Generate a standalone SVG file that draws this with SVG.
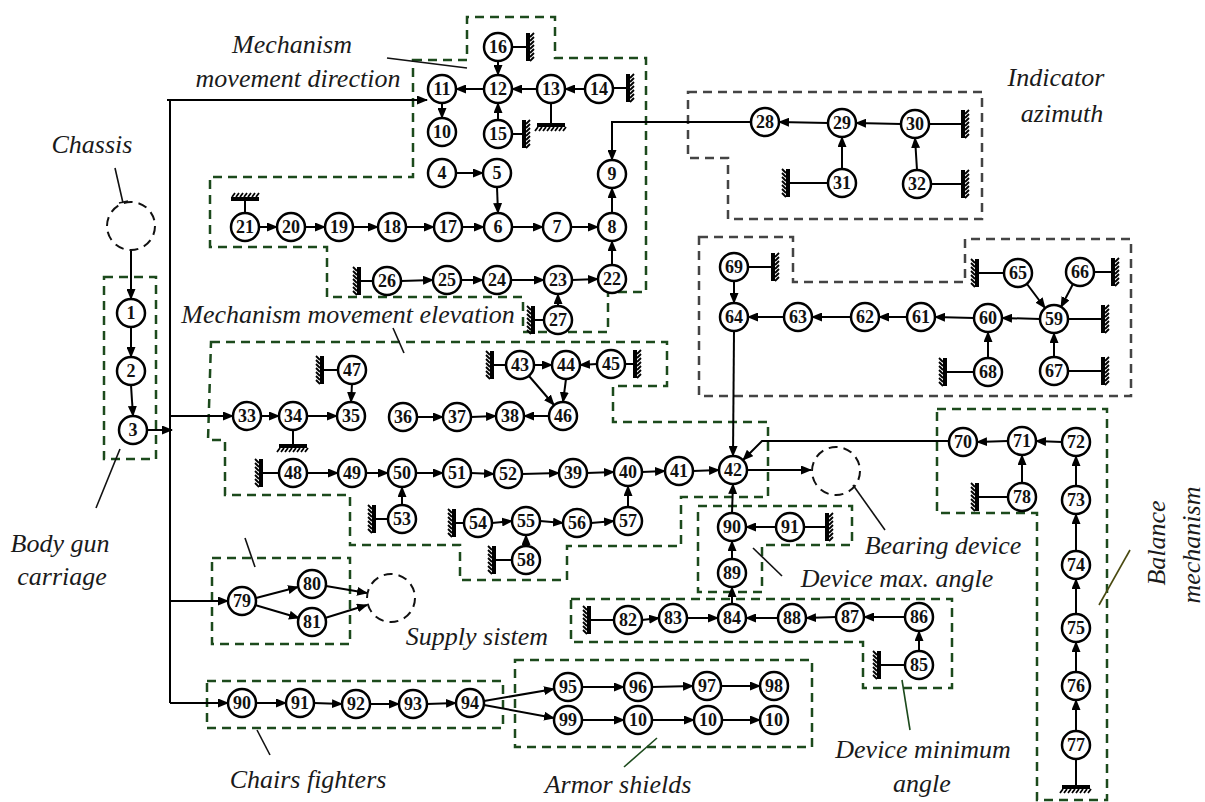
<svg xmlns="http://www.w3.org/2000/svg" xmlns:xlink="http://www.w3.org/1999/xlink" width="1205" height="802" viewBox="0 0 1205 802">
<style>
.n circle{fill:#fff;stroke:#000;stroke-width:2.5}
.n text{font-family:"Liberation Serif",serif;font-weight:bold;font-size:18px;text-anchor:middle;fill:#111}
.e{stroke:#000;stroke-width:2;fill:none;marker-end:url(#a)}
.l{stroke:#000;stroke-width:2;fill:none}
.gb{fill:none;stroke:#1c4a1c;stroke-width:2.5;stroke-dasharray:9 6}
.gy{fill:none;stroke:#444;stroke-width:2.5;stroke-dasharray:9 6}
.dc{fill:none;stroke:#111;stroke-width:2;stroke-dasharray:9 6}
.lab{font-family:"Liberation Serif",serif;font-style:italic;font-size:26px;fill:#1a1a1a;text-anchor:middle}
.ld{stroke:#111;stroke-width:1.6;fill:none}
.lg{stroke:#1c4a1c;stroke-width:1.6;fill:none}
</style>
<defs>
<marker id="a" markerWidth="11" markerHeight="9" refX="10" refY="4.5" orient="auto" markerUnits="userSpaceOnUse"><path d="M0,0 L11,4.5 L0,9 z" fill="#000"/></marker>
<g id="gR"><rect x="0" y="-14" width="4" height="28" fill="#000"/><path d="M4,-10 l4,-4 M4,-6 l4,-4 M4,-2 l4,-4 M4,2 l4,-4 M4,6 l4,-4 M4,10 l4,-4 M4,14 l4,-4" stroke="#000" stroke-width="1.8"/></g>
<g id="gL"><rect x="-4" y="-14" width="4" height="28" fill="#000"/><path d="M-4,-10 l-4,-4 M-4,-6 l-4,-4 M-4,-2 l-4,-4 M-4,2 l-4,-4 M-4,6 l-4,-4 M-4,10 l-4,-4 M-4,14 l-4,-4" stroke="#000" stroke-width="1.8"/></g>
<g id="gD"><rect x="-14" y="0" width="28" height="4" fill="#000"/><path d="M-13,4 l-3,4 M-9,4 l-3,4 M-5,4 l-3,4 M-1,4 l-3,4 M3,4 l-3,4 M7,4 l-3,4 M11,4 l-3,4 M15,4 l-3,4" stroke="#000" stroke-width="1.8"/></g>
<g id="gU"><rect x="-14" y="-4" width="28" height="4" fill="#000"/><path d="M-13,-4 l3,-4 M-9,-4 l3,-4 M-5,-4 l3,-4 M-1,-4 l3,-4 M3,-4 l3,-4 M7,-4 l3,-4 M11,-4 l3,-4" stroke="#000" stroke-width="1.8"/></g>
</defs>
<rect width="1205" height="802" fill="#fff"/>

<g id="boxes">
<path class="gb" d="M413,60 H467 V17 H555 V58 H646 V292 H608 V332 H523 V297 H327 V247 H210 V177 H413 Z"/>
<rect class="gb" x="104" y="277" width="52" height="182"/>
<path class="gb" d="M211,342 H667 V386 H613 V422 H768 V497 H681 V546 H567 V580 H460 V545 H350 V495 H225 V440 H208 Z"/>
<path class="gb" d="M698,506 H852 V545 H762 V592 H698 Z"/>
<path class="gb" d="M571,599 H952 V688 H863 V642 H571 Z"/>
<path class="gb" d="M937,409 H1107 V800 H1037 V513 H937 Z"/>
<rect class="gb" x="212" y="558" width="138" height="86"/>
<rect class="gb" x="207" y="681" width="296" height="47"/>
<rect class="gb" x="515" y="660" width="297" height="87"/>
<path class="gy" d="M688,92 H982 V219 H728 V158 H688 Z"/>
<path class="gy" d="M699,237 H793 V282 H965 V239 H1131 V396 H699 Z"/>
</g>

<g id="labels">
<text class="lab" x="292" y="53">Mechanism</text>
<text class="lab" x="298" y="87">movement direction</text>
<text class="lab" x="92" y="153">Chassis</text>
<text class="lab" x="1056" y="86">Indicator</text>
<text class="lab" x="1062" y="122">azimuth</text>
<text class="lab" x="348" y="323">Mechanism movement elevation</text>
<text class="lab" x="60" y="552">Body gun</text>
<text class="lab" x="62" y="585">carriage</text>
<text class="lab" x="943" y="554">Bearing device</text>
<text class="lab" x="897" y="587">Device max. angle</text>
<text class="lab" x="477" y="645">Supply sistem</text>
<text class="lab" x="923" y="758">Device minimum</text>
<text class="lab" x="922" y="792">angle</text>
<text class="lab" x="308" y="788">Chairs fighters</text>
<text class="lab" x="618" y="793">Armor shields</text>
<text class="lab" transform="translate(1165,543) rotate(-90)">Balance</text>
<text class="lab" transform="translate(1200,545) rotate(-90)">mechanism</text>
<path class="ld" d="M115,168 L123,203 M119,203 L128,201"/>
<path class="ld" d="M387,58 L467,68"/>
<path class="ld" d="M393,328 L404,353"/>
<path class="ld" d="M120,449 L96,508"/>
<path class="ld" d="M245,538 L255,567"/>
<path class="ld" d="M257,730 L270,755"/>
<path class="lg" d="M657,738 L624,767"/>
<path class="ld" d="M853,485 L885,530"/>
<path class="ld" d="M753,548 L782,576"/>
<path class="lg" d="M902,680 L910,730"/>
<path class="ld" d="M1099,605 L1130,550" style="stroke:#4a4a10"/>
</g>

<g id="connectors">
<path class="l" d="M170,100 V703"/>
<path class="e" d="M167,100 H427"/>
<path class="e" d="M170,416 H233"/>
<path class="e" d="M170,601 H228"/>
<path class="e" d="M170,703 H228"/>
<path class="e" d="M131,250 V299"/>
<path class="e" d="M131,327 V357"/>
<path class="e" d="M131,385 L133,416"/>
<path class="e" d="M147,430 H172"/>
<path class="e" d="M498,61 V75"/>
<path class="e" d="M484,89 H456"/>
<path class="e" d="M537,89 H512"/>
<path class="e" d="M585,89 H565"/>
<path class="e" d="M498,120 V103"/>
<path class="e" d="M442,103 V118"/>
<path class="e" d="M456,173 H483"/>
<path class="e" d="M497,187 L498,213"/>
<path class="e" d="M259,227 H277"/>
<path class="e" d="M305,227 H325"/>
<path class="e" d="M353,227 H378"/>
<path class="e" d="M406,227 H434"/>
<path class="e" d="M462,227 H484"/>
<path class="e" d="M512,227 H543"/>
<path class="e" d="M571,227 H598"/>
<path class="e" d="M612,213 V188"/>
<path class="e" d="M612,265 V241"/>
<path class="e" d="M401,281 L433,280"/>
<path class="e" d="M461,280 H483"/>
<path class="e" d="M511,280 H544"/>
<path class="e" d="M572,280 L598,279"/>
<path class="e" d="M558,306 V294"/>
<path class="e" d="M751,122 H612 V160"/>
<path class="e" d="M901,124 L856,123"/>
<path class="e" d="M828,123 L779,122"/>
<path class="e" d="M842,169 V137"/>
<path class="e" d="M917,170 L915,138"/>
<path class="e" d="M261,416 H279"/>
<path class="e" d="M307,416 H337"/>
<path class="e" d="M352,384 L351,402"/>
<path class="e" d="M417,417 H443"/>
<path class="e" d="M471,417 L496,416"/>
<path class="e" d="M549,416 H524"/>
<path class="e" d="M534,365 H552"/>
<path class="e" d="M597,364 L580,365"/>
<path class="e" d="M566,379 L563,402"/>
<path class="e" d="M529,376 L554,405"/>
<path class="e" d="M307,473 H338"/>
<path class="e" d="M366,473 H388"/>
<path class="e" d="M416,473 H443"/>
<path class="e" d="M471,473 L494,474"/>
<path class="e" d="M522,474 L559,473"/>
<path class="e" d="M587,473 L614,472"/>
<path class="e" d="M642,472 L665,471"/>
<path class="e" d="M693,471 L719,470"/>
<path class="e" d="M402,505 V487"/>
<path class="e" d="M492,523 L512,521"/>
<path class="e" d="M540,521 L563,523"/>
<path class="e" d="M591,523 L614,521"/>
<path class="e" d="M526,546 V535"/>
<path class="e" d="M628,507 V486"/>
<path class="e" d="M734,331 L733,456"/>
<path class="e" d="M732,513 L733,484"/>
<path class="e" d="M949,441 H762 L743,460"/>
<path class="e" d="M747,470 H811"/>
<path class="e" d="M1027,284 L1045,308"/>
<path class="e" d="M1073,284 L1061,307"/>
<path class="e" d="M1054,357 V333"/>
<path class="e" d="M1040,319 L1002,318"/>
<path class="e" d="M988,358 V332"/>
<path class="e" d="M974,318 L935,317"/>
<path class="e" d="M907,317 H879"/>
<path class="e" d="M851,317 H812"/>
<path class="e" d="M784,317 H748"/>
<path class="e" d="M734,281 V303"/>
<path class="e" d="M1062,442 L1036,441"/>
<path class="e" d="M1008,441 L977,442"/>
<path class="e" d="M1022,483 V455"/>
<path class="e" d="M1076,486 V456"/>
<path class="e" d="M1076,551 V514"/>
<path class="e" d="M1076,614 V579"/>
<path class="e" d="M1076,672 V642"/>
<path class="e" d="M1076,731 V700"/>
<path class="e" d="M776,527 H746"/>
<path class="e" d="M732,559 V541"/>
<path class="e" d="M732,604 V587"/>
<path class="e" d="M642,620 L659,618"/>
<path class="e" d="M687,618 H718"/>
<path class="e" d="M778,618 H746"/>
<path class="e" d="M836,617 L806,618"/>
<path class="e" d="M905,617 H864"/>
<path class="e" d="M919,651 V631"/>
<path class="e" d="M256,598 L298,587"/>
<path class="e" d="M255,605 L299,618"/>
<path class="e" d="M326,586 L367,593"/>
<path class="e" d="M325,618 L367,605"/>
<path class="e" d="M256,703 H286"/>
<path class="e" d="M314,703 L342,704"/>
<path class="e" d="M370,704 H399"/>
<path class="e" d="M427,704 L456,703"/>
<path class="e" d="M484,701 L554,689"/>
<path class="e" d="M484,705 L554,718"/>
<path class="e" d="M582,687 H624"/>
<path class="e" d="M652,687 L693,686"/>
<path class="e" d="M721,686 H760"/>
<path class="e" d="M582,720 H624"/>
<path class="e" d="M652,720 H694"/>
<path class="e" d="M722,720 H760"/>
<path class="l" d="M512,47 H526 M613,88 H626 M512,134 H522 M551,103 V123 M245,213 V201 M361,281 H373 M535,320 H544 M929,124 H961 M790,183 H828 M931,184 H961 M324,370 H338 M293,430 V444 M494,365 H506 M625,364 H633 M263,473 H279 M376,519 H388 M456,523 H464 M496,560 H512 M748,267 H771 M979,273 H1004 M1094,272 H1111 M1068,319 H1101 M947,372 H974 M1068,371 H1101 M979,497 H1008 M1076,759 V785 M804,527 H825 M591,620 H614 M881,665 H905"/>
</g>

<g id="grounds">
<use xlink:href="#gR" x="526" y="47"/>
<use xlink:href="#gR" x="626" y="88"/>
<use xlink:href="#gR" x="522" y="134"/>
<use xlink:href="#gD" x="551" y="123"/>
<use xlink:href="#gU" x="245" y="201"/>
<use xlink:href="#gL" x="361" y="281"/>
<use xlink:href="#gL" x="535" y="320"/>
<use xlink:href="#gR" x="961" y="124"/>
<use xlink:href="#gL" x="790" y="183"/>
<use xlink:href="#gR" x="961" y="184"/>
<use xlink:href="#gL" x="324" y="370"/>
<use xlink:href="#gD" x="293" y="444"/>
<use xlink:href="#gL" x="494" y="365"/>
<use xlink:href="#gR" x="633" y="364"/>
<use xlink:href="#gL" x="263" y="473"/>
<use xlink:href="#gL" x="376" y="519"/>
<use xlink:href="#gL" x="456" y="523"/>
<use xlink:href="#gL" x="496" y="560"/>
<use xlink:href="#gR" x="771" y="267"/>
<use xlink:href="#gL" x="979" y="273"/>
<use xlink:href="#gR" x="1111" y="272"/>
<use xlink:href="#gR" x="1101" y="319"/>
<use xlink:href="#gL" x="947" y="372"/>
<use xlink:href="#gR" x="1101" y="371"/>
<use xlink:href="#gL" x="979" y="497"/>
<use xlink:href="#gD" x="1076" y="785"/>
<use xlink:href="#gR" x="825" y="527"/>
<use xlink:href="#gL" x="591" y="620"/>
<use xlink:href="#gL" x="881" y="665"/>
</g>

<g id="chassis"><circle class="dc" cx="131" cy="226" r="24"/></g>
<g id="bearing"><circle class="dc" cx="836" cy="471" r="24"/></g>
<g id="supply"><circle class="dc" cx="391" cy="598" r="24"/></g>

<g id="n1" class="n"><circle cx="131" cy="313" r="14"/><text x="131" y="319">1</text></g>
<g id="n2" class="n"><circle cx="131" cy="371" r="14"/><text x="131" y="377">2</text></g>
<g id="n3" class="n"><circle cx="133" cy="430" r="14"/><text x="133" y="436">3</text></g>
<g id="n4" class="n"><circle cx="442" cy="173" r="14"/><text x="442" y="179">4</text></g>
<g id="n5" class="n"><circle cx="497" cy="173" r="14"/><text x="497" y="179">5</text></g>
<g id="n6" class="n"><circle cx="498" cy="227" r="14"/><text x="498" y="233">6</text></g>
<g id="n7" class="n"><circle cx="557" cy="227" r="14"/><text x="557" y="233">7</text></g>
<g id="n8" class="n"><circle cx="612" cy="227" r="14"/><text x="612" y="233">8</text></g>
<g id="n9" class="n"><circle cx="612" cy="174" r="14"/><text x="612" y="180">9</text></g>
<g id="n10" class="n"><circle cx="442" cy="132" r="14"/><text x="442" y="138">10</text></g>
<g id="n11" class="n"><circle cx="442" cy="89" r="14"/><text x="442" y="95">11</text></g>
<g id="n12" class="n"><circle cx="498" cy="89" r="14"/><text x="498" y="95">12</text></g>
<g id="n13" class="n"><circle cx="551" cy="89" r="14"/><text x="551" y="95">13</text></g>
<g id="n14" class="n"><circle cx="599" cy="89" r="14"/><text x="599" y="95">14</text></g>
<g id="n15" class="n"><circle cx="498" cy="134" r="14"/><text x="498" y="140">15</text></g>
<g id="n16" class="n"><circle cx="498" cy="47" r="14"/><text x="498" y="53">16</text></g>
<g id="n17" class="n"><circle cx="448" cy="227" r="14"/><text x="448" y="233">17</text></g>
<g id="n18" class="n"><circle cx="392" cy="227" r="14"/><text x="392" y="233">18</text></g>
<g id="n19" class="n"><circle cx="339" cy="227" r="14"/><text x="339" y="233">19</text></g>
<g id="n20" class="n"><circle cx="291" cy="227" r="14"/><text x="291" y="233">20</text></g>
<g id="n21" class="n"><circle cx="245" cy="227" r="14"/><text x="245" y="233">21</text></g>
<g id="n22" class="n"><circle cx="612" cy="279" r="14"/><text x="612" y="285">22</text></g>
<g id="n23" class="n"><circle cx="558" cy="280" r="14"/><text x="558" y="286">23</text></g>
<g id="n24" class="n"><circle cx="497" cy="280" r="14"/><text x="497" y="286">24</text></g>
<g id="n25" class="n"><circle cx="447" cy="280" r="14"/><text x="447" y="286">25</text></g>
<g id="n26" class="n"><circle cx="387" cy="281" r="14"/><text x="387" y="287">26</text></g>
<g id="n27" class="n"><circle cx="558" cy="320" r="14"/><text x="558" y="326">27</text></g>
<g id="n28" class="n"><circle cx="765" cy="122" r="14"/><text x="765" y="128">28</text></g>
<g id="n29" class="n"><circle cx="842" cy="123" r="14"/><text x="842" y="129">29</text></g>
<g id="n30" class="n"><circle cx="915" cy="124" r="14"/><text x="915" y="130">30</text></g>
<g id="n31" class="n"><circle cx="842" cy="183" r="14"/><text x="842" y="189">31</text></g>
<g id="n32" class="n"><circle cx="917" cy="184" r="14"/><text x="917" y="190">32</text></g>
<g id="n33" class="n"><circle cx="247" cy="416" r="14"/><text x="247" y="422">33</text></g>
<g id="n34" class="n"><circle cx="293" cy="416" r="14"/><text x="293" y="422">34</text></g>
<g id="n35" class="n"><circle cx="351" cy="416" r="14"/><text x="351" y="422">35</text></g>
<g id="n36" class="n"><circle cx="403" cy="417" r="14"/><text x="403" y="423">36</text></g>
<g id="n37" class="n"><circle cx="457" cy="417" r="14"/><text x="457" y="423">37</text></g>
<g id="n38" class="n"><circle cx="510" cy="416" r="14"/><text x="510" y="422">38</text></g>
<g id="n39" class="n"><circle cx="573" cy="473" r="14"/><text x="573" y="479">39</text></g>
<g id="n40" class="n"><circle cx="628" cy="472" r="14"/><text x="628" y="478">40</text></g>
<g id="n41" class="n"><circle cx="679" cy="471" r="14"/><text x="679" y="477">41</text></g>
<g id="n42" class="n"><circle cx="733" cy="470" r="14"/><text x="733" y="476">42</text></g>
<g id="n43" class="n"><circle cx="520" cy="365" r="14"/><text x="520" y="371">43</text></g>
<g id="n44" class="n"><circle cx="566" cy="365" r="14"/><text x="566" y="371">44</text></g>
<g id="n45" class="n"><circle cx="611" cy="364" r="14"/><text x="611" y="370">45</text></g>
<g id="n46" class="n"><circle cx="563" cy="416" r="14"/><text x="563" y="422">46</text></g>
<g id="n47" class="n"><circle cx="352" cy="370" r="14"/><text x="352" y="376">47</text></g>
<g id="n48" class="n"><circle cx="293" cy="473" r="14"/><text x="293" y="479">48</text></g>
<g id="n49" class="n"><circle cx="352" cy="473" r="14"/><text x="352" y="479">49</text></g>
<g id="n50" class="n"><circle cx="402" cy="473" r="14"/><text x="402" y="479">50</text></g>
<g id="n51" class="n"><circle cx="457" cy="473" r="14"/><text x="457" y="479">51</text></g>
<g id="n52" class="n"><circle cx="508" cy="474" r="14"/><text x="508" y="480">52</text></g>
<g id="n53" class="n"><circle cx="402" cy="519" r="14"/><text x="402" y="525">53</text></g>
<g id="n54" class="n"><circle cx="478" cy="523" r="14"/><text x="478" y="529">54</text></g>
<g id="n55" class="n"><circle cx="526" cy="521" r="14"/><text x="526" y="527">55</text></g>
<g id="n56" class="n"><circle cx="577" cy="523" r="14"/><text x="577" y="529">56</text></g>
<g id="n57" class="n"><circle cx="628" cy="521" r="14"/><text x="628" y="527">57</text></g>
<g id="n58" class="n"><circle cx="526" cy="560" r="14"/><text x="526" y="566">58</text></g>
<g id="n59" class="n"><circle cx="1054" cy="319" r="14"/><text x="1054" y="325">59</text></g>
<g id="n60" class="n"><circle cx="988" cy="318" r="14"/><text x="988" y="324">60</text></g>
<g id="n61" class="n"><circle cx="921" cy="317" r="14"/><text x="921" y="323">61</text></g>
<g id="n62" class="n"><circle cx="865" cy="317" r="14"/><text x="865" y="323">62</text></g>
<g id="n63" class="n"><circle cx="798" cy="317" r="14"/><text x="798" y="323">63</text></g>
<g id="n64" class="n"><circle cx="734" cy="317" r="14"/><text x="734" y="323">64</text></g>
<g id="n65" class="n"><circle cx="1018" cy="273" r="14"/><text x="1018" y="279">65</text></g>
<g id="n66" class="n"><circle cx="1080" cy="272" r="14"/><text x="1080" y="278">66</text></g>
<g id="n67" class="n"><circle cx="1054" cy="371" r="14"/><text x="1054" y="377">67</text></g>
<g id="n68" class="n"><circle cx="988" cy="372" r="14"/><text x="988" y="378">68</text></g>
<g id="n69" class="n"><circle cx="734" cy="267" r="14"/><text x="734" y="273">69</text></g>
<g id="n70" class="n"><circle cx="963" cy="442" r="14"/><text x="963" y="448">70</text></g>
<g id="n71" class="n"><circle cx="1022" cy="441" r="14"/><text x="1022" y="447">71</text></g>
<g id="n72" class="n"><circle cx="1076" cy="442" r="14"/><text x="1076" y="448">72</text></g>
<g id="n73" class="n"><circle cx="1076" cy="500" r="14"/><text x="1076" y="506">73</text></g>
<g id="n74" class="n"><circle cx="1076" cy="565" r="14"/><text x="1076" y="571">74</text></g>
<g id="n75" class="n"><circle cx="1076" cy="628" r="14"/><text x="1076" y="634">75</text></g>
<g id="n76" class="n"><circle cx="1076" cy="686" r="14"/><text x="1076" y="692">76</text></g>
<g id="n77" class="n"><circle cx="1076" cy="745" r="14"/><text x="1076" y="751">77</text></g>
<g id="n78" class="n"><circle cx="1022" cy="497" r="14"/><text x="1022" y="503">78</text></g>
<g id="n79" class="n"><circle cx="242" cy="601" r="14"/><text x="242" y="607">79</text></g>
<g id="n80" class="n"><circle cx="312" cy="584" r="14"/><text x="312" y="590">80</text></g>
<g id="n81" class="n"><circle cx="312" cy="622" r="14"/><text x="312" y="628">81</text></g>
<g id="n82" class="n"><circle cx="628" cy="620" r="14"/><text x="628" y="626">82</text></g>
<g id="n83" class="n"><circle cx="673" cy="618" r="14"/><text x="673" y="624">83</text></g>
<g id="n84" class="n"><circle cx="732" cy="618" r="14"/><text x="732" y="624">84</text></g>
<g id="n85" class="n"><circle cx="919" cy="665" r="14"/><text x="919" y="671">85</text></g>
<g id="n86" class="n"><circle cx="919" cy="617" r="14"/><text x="919" y="623">86</text></g>
<g id="n87" class="n"><circle cx="850" cy="617" r="14"/><text x="850" y="623">87</text></g>
<g id="n88" class="n"><circle cx="792" cy="618" r="14"/><text x="792" y="624">88</text></g>
<g id="n89" class="n"><circle cx="732" cy="573" r="14"/><text x="732" y="579">89</text></g>
<g id="n90a" class="n"><circle cx="732" cy="527" r="14"/><text x="732" y="533">90</text></g>
<g id="n91a" class="n"><circle cx="790" cy="527" r="14"/><text x="790" y="533">91</text></g>
<g id="n90b" class="n"><circle cx="242" cy="703" r="14"/><text x="242" y="709">90</text></g>
<g id="n91b" class="n"><circle cx="300" cy="703" r="14"/><text x="300" y="709">91</text></g>
<g id="n92" class="n"><circle cx="356" cy="704" r="14"/><text x="356" y="710">92</text></g>
<g id="n93" class="n"><circle cx="413" cy="704" r="14"/><text x="413" y="710">93</text></g>
<g id="n94" class="n"><circle cx="470" cy="703" r="14"/><text x="470" y="709">94</text></g>
<g id="n95" class="n"><circle cx="568" cy="687" r="14"/><text x="568" y="693">95</text></g>
<g id="n96" class="n"><circle cx="638" cy="687" r="14"/><text x="638" y="693">96</text></g>
<g id="n97" class="n"><circle cx="707" cy="686" r="14"/><text x="707" y="692">97</text></g>
<g id="n98" class="n"><circle cx="774" cy="686" r="14"/><text x="774" y="692">98</text></g>
<g id="n99" class="n"><circle cx="568" cy="720" r="14"/><text x="568" y="726">99</text></g>
<g id="n100" class="n"><circle cx="638" cy="720" r="14"/><text x="638" y="726">10</text></g>
<g id="n101" class="n"><circle cx="708" cy="720" r="14"/><text x="708" y="726">10</text></g>
<g id="n102" class="n"><circle cx="774" cy="720" r="14"/><text x="774" y="726">10</text></g>
</svg>
